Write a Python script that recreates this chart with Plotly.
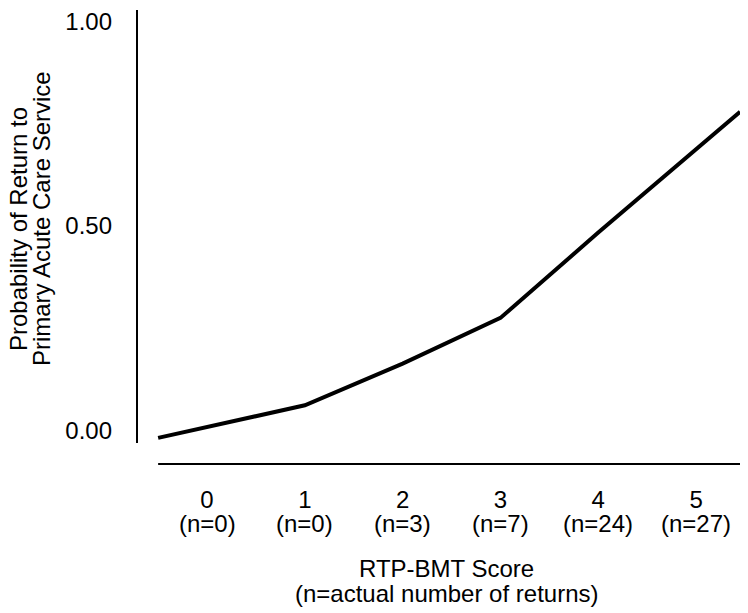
import plotly.graph_objects as go

# ---- data ----
scores = [0, 1, 2, 3, 4, 5]
score_labels = ["0", "1", "2", "3", "4", "5"]
n_returns = [0, 0, 3, 7, 24, 27]
# fitted probability line (extends slightly beyond the score range at both ends)
line_x = [-0.5, 0, 1, 2, 3, 4, 5, 5.45]
line_p = [-0.019, 0.008, 0.061, 0.163, 0.275, 0.484, 0.690, 0.780]
y_ticks = [0.0, 0.5, 1.0]
y_ticktext = ["0.00", "0.50", "1.00"]

FONT = "Liberation Sans, Arial, Helvetica, sans-serif"
FS = 24

# page body has an 8px margin; work in screen pixels and convert
OFF = 8
W, H = 748 - OFF, 613 - OFF
L, R, T, B = 137, 745, 8, 464          # plot area, screen pixels
PW, PH = R - L, B - T

def px_x(px):
    return (px - L) / PW

def px_y(py):
    return (B - py) / PH

fig = go.Figure()
fig.add_trace(go.Scatter(x=line_x, y=line_p, mode="lines",
                         line=dict(color="black", width=4), hoverinfo="skip",
                         showlegend=False))

fig.update_layout(
    width=W, height=H,
    margin=dict(l=L - OFF, r=(W + OFF) - R, t=T - OFF, b=(H + OFF) - B, pad=0),
    paper_bgcolor="white", plot_bgcolor="white",
    font=dict(family=FONT, size=FS, color="black"),
    showlegend=False,
)
fig.update_xaxes(range=[-0.716, 5.5], showgrid=False, zeroline=False, showline=False,
                 tickmode="array", tickvals=scores, ticktext=score_labels,
                 ticks="", ticklabelstandoff=19, tickfont=dict(size=FS),
                 ticklabeloverflow="allow")
fig.update_yaxes(range=[-0.0829, 1.0293], showgrid=False, zeroline=False, showline=False,
                 tickmode="array", tickvals=y_ticks, ticktext=y_ticktext,
                 ticks="", ticklabelstandoff=24, tickfont=dict(size=FS),
                 ticklabeloverflow="allow")

# separated axis lines
fig.add_shape(type="line", xref="paper", yref="y", x0=0, x1=0,
              y0=-0.0317, y1=1.0293, line=dict(color="black", width=2))
fig.add_shape(type="line", xref="x", yref="paper", x0=-0.5, x1=5.48,
              y0=0, y1=0, line=dict(color="black", width=2))

# (n=...) second line of category labels
for s, n in zip(scores, n_returns):
    fig.add_annotation(x=s, xref="x", y=px_y(524), yref="paper",
                       text=f"(n={n})", showarrow=False, yanchor="middle",
                       font=dict(size=FS))

# x title (two tight lines)
fig.add_annotation(x=px_x(446), xref="paper", y=px_y(569), yref="paper",
                   text="RTP-BMT Score", showarrow=False, yanchor="middle")
fig.add_annotation(x=px_x(446), xref="paper", y=px_y(594), yref="paper",
                   text="(n=actual number of returns)", showarrow=False, yanchor="middle")

# y title (two tight rotated lines)
fig.add_annotation(x=px_x(18), xref="paper", y=px_y(228), yref="paper",
                   text="Probability of Return to", showarrow=False, textangle=-90,
                   xanchor="center", yanchor="middle")
fig.add_annotation(x=px_x(41), xref="paper", y=px_y(218), yref="paper",
                   text="Primary Acute Care Service", showarrow=False, textangle=-90,
                   xanchor="center", yanchor="middle")

fig.write_html("out.html")
